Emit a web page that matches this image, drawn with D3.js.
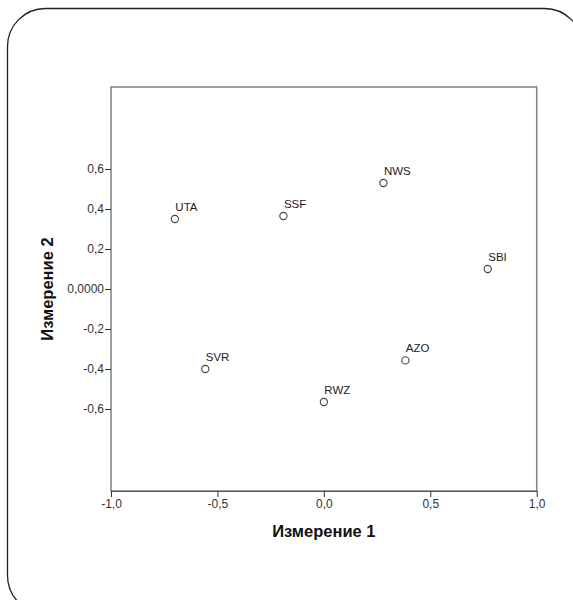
<!DOCTYPE html>
<html>
<head>
<meta charset="utf-8">
<script src="https://cdn.jsdelivr.net/npm/d3@7"></script>
<style>
html,body{margin:0;padding:0;background:#fff;}
svg{display:block;}
</style>
</head>
<body>
<svg id="chart" width="573" height="600"></svg>
<script>
const labels = ["UTA","SSF","NWS","SBI","SVR","RWZ","AZO"];
const dim1 = [-0.70, -0.19, 0.28, 0.77, -0.557, 0.00, 0.383];
const dim2 = [0.35, 0.365, 0.53, 0.10, -0.40, -0.565, -0.357];
const xTicks = [-1.0, -0.5, 0.0, 0.5, 1.0];
const xTickLabels = ["-1,0","-0,5","0,0","0,5","1,0"];
const yTicks = [0.6, 0.4, 0.2, 0.0, -0.2, -0.4, -0.6];
const yTickLabels = ["0,6","0,4","0,2","0,0000","-0,2","-0,4","-0,6"];
const xTitle = "Измерение 1";
const yTitle = "Измерение 2";

(function () {
const svg = d3.select("#chart");
const pLeft = 111, pRight = 536.7, pTop = 87, pBottom = 491;

// outer rounded frame
svg.append("rect")
  .attr("x", 7.5).attr("y", 8.5)
  .attr("width", 575).attr("height", 605)
  .attr("rx", 38).attr("ry", 38)
  .attr("fill", "none").attr("stroke", "#222").attr("stroke-width", 1.3);

const x = d3.scaleLinear().domain([-1, 1]).range([pLeft, pRight]);
const y = d3.scaleLinear().domain([-1.01, 1.01]).range([pBottom, pTop]);

// plot frame
svg.append("rect")
  .attr("x", pLeft).attr("y", pTop)
  .attr("width", pRight - pLeft).attr("height", pBottom - pTop)
  .attr("fill", "none").attr("stroke", "#808080").attr("stroke-width", 1.5);

const font = "Arial, 'Liberation Sans', sans-serif";

const xAxis = d3.axisBottom(x).tickValues(xTicks)
  .tickFormat((d, i) => xTickLabels[i]).tickSize(6).tickSizeOuter(0);
const gx = svg.append("g").attr("transform", `translate(0,${pBottom})`).call(xAxis);
gx.select(".domain").attr("stroke", "#555").attr("stroke-width", 1.2);
gx.selectAll(".tick line").attr("stroke", "#333").attr("stroke-width", 1);
gx.selectAll(".tick text").attr("font-family", font).attr("font-size", 12)
  .attr("fill", "#333").attr("dy", "0.85em").attr("y", 7);

const yAxis = d3.axisLeft(y).tickValues(yTicks)
  .tickFormat((d, i) => yTickLabels[i]).tickSize(6).tickSizeOuter(0);
const gy = svg.append("g").attr("transform", `translate(${pLeft},0)`).call(yAxis);
gy.select(".domain").remove();
gy.selectAll(".tick line").attr("stroke", "#333").attr("stroke-width", 1);
gy.selectAll(".tick text").attr("font-family", font).attr("font-size", 12)
  .attr("fill", "#333").attr("x", -7);

// titles
svg.append("text").attr("x", (pLeft + pRight) / 2).attr("y", 537)
  .attr("text-anchor", "middle").attr("font-family", font)
  .attr("font-size", 16.5).attr("font-weight", "bold").attr("fill", "#111")
  .text(xTitle);
svg.append("text")
  .attr("transform", `translate(53,${y(0)}) rotate(-90)`)
  .attr("text-anchor", "middle").attr("font-family", font)
  .attr("font-size", 16.5).attr("font-weight", "bold").attr("fill", "#111")
  .text(yTitle);

// points
const data = labels.map((l, i) => ({l, a: dim1[i], b: dim2[i]}));
const g = svg.append("g");
g.selectAll("circle").data(data).join("circle")
  .attr("cx", d => x(d.a)).attr("cy", d => y(d.b)).attr("r", 3.6)
  .attr("fill", "none").attr("stroke", "#444").attr("stroke-width", 1.1);
g.selectAll("text").data(data).join("text")
  .attr("x", d => x(d.a) + 0.5).attr("y", d => y(d.b) - 8)
  .attr("font-family", font).attr("font-size", 11.5).attr("fill", "#222")
  .text(d => d.l);
})();
</script>
</body>
</html>
